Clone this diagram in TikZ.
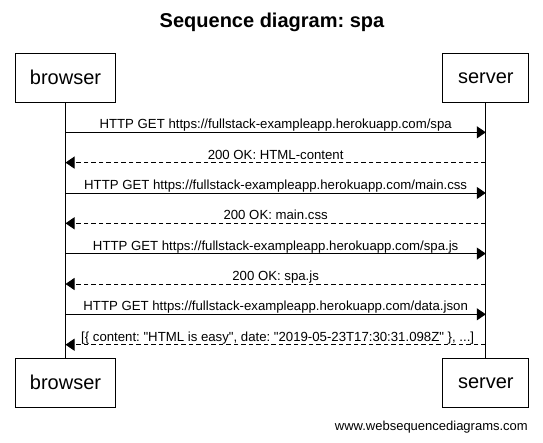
\documentclass[tikz,border=0pt]{standalone}
\usepackage{fontspec}
\setmainfont{Liberation Sans}[Ligatures=TeXOff]
\usetikzlibrary{arrows.meta}
\frenchspacing
\begin{document}
\begin{tikzpicture}[x=1pt,y=-1pt,
  actor/.style={draw, line width=1pt, minimum height=49pt, inner sep=0pt, font=\fontsize{20}{24}\selectfont},
  lifeline/.style={line width=1pt},
  msg/.style={line width=1pt, -{Triangle[length=9pt,width=12pt]}},
  reply/.style={msg, dash pattern=on 4.5pt off 3pt},
  lbl/.style={anchor=base, yshift=3.6pt, inner sep=0pt, font=\fontsize{13.2}{15}\selectfont}]
\useasboundingbox (0,0) rectangle (543,442);
\fill[white] (0,0) rectangle (543,442);
\node[anchor=base, font=\bfseries\fontsize{20}{24}\selectfont] (title) at (272,27.3) {Sequence diagram: spa};
\node[actor, minimum width=100.4pt] (bt) at (65.5,77.8) {browser};
\node[actor, minimum width=86pt] (st) at (485.8,77.8) {server};
\node[actor, minimum width=100.4pt] (bb) at (65.5,382.8) {browser};
\node[actor, minimum width=86pt] (sb) at (485.8,382.8) {server};
\draw[lifeline] (bt.south) -- (bb.north);
\draw[lifeline] (st.south) -- (sb.north);
\foreach \i/\y in {1/132.3,2/162.6,3/193.0,4/223.3,5/253.6,6/284.0,7/314.3,8/344.7}{
  \coordinate (b\i) at (65.5,\y);
  \coordinate (s\i) at (485.8,\y);
}
\draw[msg] (b1) -- node[lbl] {HTTP GET https://fullstack-exampleapp.herokuapp.com/spa} (s1);
\draw[reply] (s2) -- node[lbl] {200 OK: HTML-content} (b2);
\draw[msg] (b3) -- node[lbl] {HTTP GET https://fullstack-exampleapp.herokuapp.com/main.css} (s3);
\draw[reply] (s4) -- node[lbl] {200 OK: main.css} (b4);
\draw[msg] (b5) -- node[lbl] {HTTP GET https://fullstack-exampleapp.herokuapp.com/spa.js} (s5);
\draw[reply] (s6) -- node[lbl] {200 OK: spa.js} (b6);
\draw[msg] (b7) -- node[lbl] {HTTP GET https://fullstack-exampleapp.herokuapp.com/data.json} (s7);
\draw[reply] (s8) -- node[lbl, xshift=2pt] {[\{ content: "HTML is easy", date: "2019-05-23T17:30:31.098Z" \}, ...]} (b8);
\node[anchor=base east, inner sep=0pt, font=\fontsize{13}{15}\selectfont] (footer) at (528,430.5) {www.websequencediagrams.com};
\end{tikzpicture}
\end{document}
